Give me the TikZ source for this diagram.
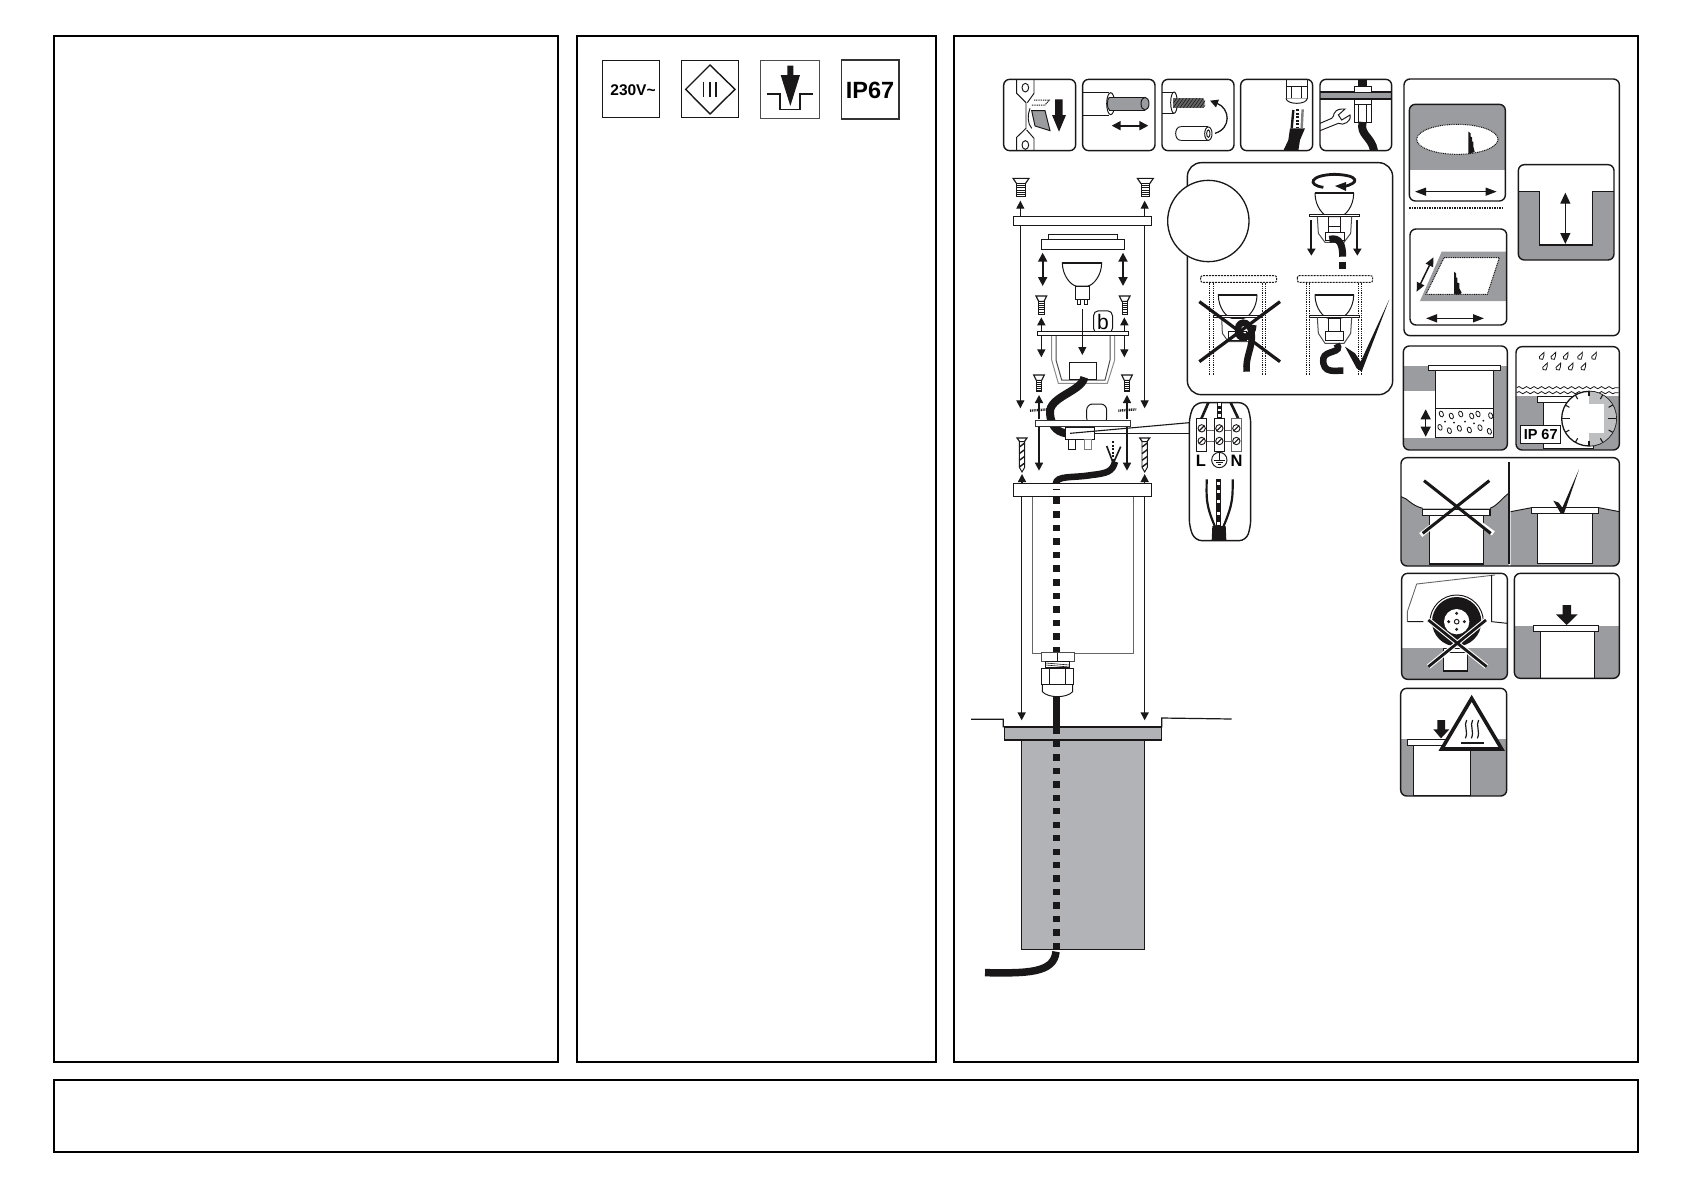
\documentclass[tikz,border=0pt]{standalone}
\usepackage{fontspec}
\setmainfont{Liberation Sans}
\usetikzlibrary{arrows.meta,decorations.pathmorphing,shapes.geometric}
\definecolor{ink}{HTML}{1A1718}
\definecolor{cardgray}{HTML}{9A9C9F}
\definecolor{bodygray}{HTML}{B1B3B6}
\definecolor{litegray}{HTML}{BDBFC1}
\tikzset{
 z/.style 2 args={shift={(#1,#2)},x=0.33333pt,y=-0.33333pt},
 frame/.style={draw=black,line width=2pt},
 card/.style={draw=ink,line width=1.4pt,rounded corners=6pt},
 thin line/.style={draw=ink,line width=.95pt},
 ln/.style={draw=ink,line width=1.15pt},
 cable/.style={draw=ink,line width=7.5pt,line cap=butt},
 ar/.style={draw=ink,line width=1.1pt,-{Triangle[length=8pt,width=8pt]}},
 bigdar/.style={draw=ink,line width=1.9pt,{Triangle[length=9pt,width=9pt]}-{Triangle[length=9pt,width=9pt]}},
 dotln/.style={draw=ink,line width=1pt,dash pattern=on 1pt off .8pt},
 crossx/.style={draw=ink,line width=3.2pt},
}
\newcommand\Card[5]{%
 \begin{scope}\clip[rounded corners=6pt] (#1,#2) rectangle (#3,#4); #5 \end{scope}
 \draw[card] (#1,#2) rectangle (#3,#4);}
% screw: cx, top y, half head width, thread half width, bottom y
\newcommand\Screw[5]{%
 \draw[ln,fill=white] (#1-#3,#2) -- (#1+#3,#2) -- (#1+#4,#2+16) -- (#1-#4,#2+16) -- cycle;
 \draw[draw=ink,line width=.9pt,fill=white] (#1-#4,#2+16) rectangle (#1+#4,#5);
 \foreach \t in {0.17,0.34,0.51,0.68,0.85}{\draw[draw=ink,line width=.9pt] (#1-#4,{#2+16+\t*(#5-#2-16)}) -- (#1+#4,{#2+16+\t*(#5-#2-16)});}}
% bulb dome: cx, top y, half width
\newcommand\Dome[3]{%
 \draw[draw=ink,line width=1pt,fill=white] (#1-#3,#2) .. controls (#1-#3,#2+40) and (#1-.55*#3,#2+68) .. (#1-.3*#3,#2+70) -- (#1+.3*#3,#2+70) .. controls (#1+.55*#3,#2+68) and (#1+#3,#2+40) .. (#1+#3,#2) -- cycle;
 \draw[draw=ink,line width=1.8pt] (#1-#3,#2) -- (#1+#3,#2);}
% gravel stone
\newcommand\Stone[3]{\draw[draw=ink,line width=.8pt] (#1,#2) ellipse[x radius=#3,y radius=#3*1.5,rotate=20];}
\newcommand\Drop[2]{\draw[draw=ink,line width=.8pt] (#1+7,#2-13) .. controls (#1+5,#2-5) and (#1+9,#2) .. (#1+3,#2+8) .. controls (#1-4,#2+10) and (#1-10,#2+5) .. (#1-7,#2) .. controls (#1-4,#2-4) and (#1+3,#2-8) .. cycle;}
\begin{document}
\begin{tikzpicture}[x=1pt,y=-1pt]
\useasboundingbox (0,0) rectangle (1685,1191);
\fill[white] (0,0) rectangle (1685,1191);
% ---------- frames
\draw[frame] (54.3,35.7) rectangle (558,1062);
\draw[frame] (576.5,35.7) rectangle (936,1062);
\draw[frame] (954,35.7) rectangle (1637.7,1062);
\draw[frame] (54.3,1080.3) rectangle (1637.7,1151.7);

% ---------- symbols
\begin{scope}[z={580}{40}]
 \node[draw=ink,line width=1.5pt,minimum size=56.6pt,inner sep=0pt] (volt) at (153,147) {};
 \node[inner sep=0pt,font=\fontsize{15.5}{16}\selectfont\bfseries] (volttext) at (159,152) {230V\char`\~};
 \draw[draw=ink,line width=1.5pt] (305,62) rectangle (475,232);
 \draw[draw=ink,line width=1.4pt] (390,75) -- (465,148) -- (390,222) -- (317,148) -- cycle;
 \foreach \x in {371,390,408}{\draw[draw=ink,line width=1.2pt] (\x,126) -- (\x,170);}
 \draw[draw=black!70,line width=1.2pt] (542,62) rectangle (718,235);
 \draw[draw=ink,line width=1.2pt] (562,162) -- (600,162) -- (600,209) -- (660,209) -- (660,162) -- (700,162);
 \fill[ink] (622,77) -- (640,77) -- (640,105) -- (660,105) -- (631,198) -- (602,105) -- (622,105) -- cycle;
 \node[draw=black!80,line width=1.5pt,minimum width=57.5pt,minimum height=59pt,inner sep=0pt] (ip) at (870,149) {};
 \node[inner sep=0pt,font=\fontsize{23.5}{24}\selectfont\bfseries] (iptext) at (870,152) {IP67};
\end{scope}

% ---------- instruction row, big panel
\begin{scope}[z={990}{60}]
 % icon 1
 \Card{41}{58}{257}{272}{
  \draw[thin line] (80,58) -- (80,100) -- (108,128) -- (108,205) -- (80,232) -- (80,272);
  \draw[thin line] (132,58) -- (132,100) -- (112,128);
  \draw[thin line] (132,272) -- (132,235) -- (110,210);
  \draw[thin line] (106,83) ellipse[x radius=10,y radius=13];
  \draw[thin line] (106,255) ellipse[x radius=10,y radius=13];
  \draw[dotln] (132,120) -- (178,120) -- (165,135) -- (125,135);
  \draw[thin line,fill=cardgray] (125,152) -- (165,152) -- (180,212) -- (135,198) -- cycle;
  \draw[thin line] (120,145) .. controls (112,165) and (112,190) .. (125,205);
  \fill[ink] (195,118) -- (218,118) -- (218,165) -- (228,165) -- (207,215) -- (186,165) -- (195,165) -- cycle;
 }
 % icon 2
 \Card{278}{58}{495}{272}{
  \draw[thin line] (278,97) -- (358,97) (278,165) -- (358,165);
  \draw[thin line,fill=white] (362,131) ellipse[x radius=12,y radius=33];
  \fill[cardgray] (358,112) rectangle (465,150);
  \fill[cardgray] (358,131) ellipse[x radius=5,y radius=19];
  \draw[thin line] (358,112) -- (465,112) (358,150) -- (465,150);
  \draw[thin line] (358,112) .. controls (350,118) and (350,144) .. (358,150);
  \draw[thin line,fill=cardgray] (465,131) ellipse[x radius=12,y radius=19];
  \draw[bigdar] (365,197) -- (475,197);
 }
 % icon 3
 \Card{516}{58}{732}{272}{
  \draw[thin line] (516,97) -- (552,97) (516,160) -- (552,160);
  \draw[thin line,fill=white] (552,128) ellipse[x radius=10,y radius=32];
  \fill[black!60] (550,115) rectangle (638,143);
  \fill[black!60] (638,129) ellipse[x radius=6,y radius=14];
  \begin{scope}\clip (550,115) rectangle (645,143);
   \foreach \x in {540,550,...,640}{\draw[ink,line width=.6pt] (\x,143) -- (\x+20,115);}
  \end{scope}
  \draw[thin line] (572,200) -- (655,200) (572,241) -- (655,241);
  \draw[thin line] (572,200) .. controls (552,200) and (552,241) .. (572,241);
  \draw[thin line,fill=white] (655,221) ellipse[x radius=11,y radius=20];
  \draw[thin line] (655,221) ellipse[x radius=5,y radius=11];
  \draw[draw=ink,line width=1.3pt,-{Triangle[length=8pt,width=8pt]}] (675,220) .. controls (725,205) and (720,145) .. (660,122);
 }
 % icon 4
 \Card{752}{58}{968}{272}{
  \draw[thin line,fill=white] (888,58) rectangle (952,78);
  \draw[thin line,fill=white] (888,78) rectangle (952,115);
  \draw[thin line] (905,78) -- (905,115) (935,78) -- (935,115);
  \draw[thin line,fill=white] (888,115) .. controls (890,135) and (950,135) .. (952,115);
  \fill[ink] (880,272) -- (895,240) -- (900,205) -- (945,205) -- (930,240) -- (925,272) -- cycle;
  \draw[draw=ink,line width=2.4pt] (910,150) -- (905,205);
  \draw[draw=ink,line width=2.6pt,dash pattern=on 2pt off 1.5pt] (922,148) -- (922,205);
  \draw[draw=black!50,line width=2.4pt] (938,148) -- (935,205);
 }
 % icon 5
 \Card{990}{58}{1205}{272}{
  \fill[ink] (1105,58) rectangle (1130,82);
  \fill[cardgray] (990,97) rectangle (1205,116);
  \draw[draw=ink,line width=1.8pt] (990,96) -- (1205,96) (990,117) -- (1205,117);
  \draw[thin line,fill=white] (1092,80) rectangle (1145,96);
  \draw[thin line,fill=white] (1092,118) rectangle (1145,133);
  \draw[thin line,fill=white] (1092,133) rectangle (1145,186);
  \draw[thin line] (1105,133) -- (1105,186) (1130,133) -- (1130,186);
  \draw[cable,line width=8pt] (1118,186) .. controls (1108,225) and (1145,230) .. (1152,272);
  \draw[thin line] (990,190) -- (1025,175) .. controls (1035,170) and (1025,150) .. (1055,147) -- (1065,147) -- (1045,165) -- (1055,180) -- (1080,165) .. controls (1085,185) and (1060,198) .. (1045,190) -- (990,212);
 }
 % big rounded panel
 \draw[draw=ink,line width=1.4pt,rounded corners=14pt] (592,308) rectangle (1208,1004);
 \draw[draw=ink,line width=1.3pt,fill=white] (655,483) circle[radius=122];
 % top right figure
 \draw[draw=ink,line width=2.8pt] (1060,380) .. controls (1110,370) and (1110,345) .. (1033,343) .. controls (960,345) and (950,375) .. (1000,382);
 \fill[ink] (1035,378) -- (1068,366) -- (1068,393) -- cycle;
 \Dome{1033}{400}{58}
 \draw[thin line,fill=white] (958,463) rectangle (1108,469);
 \draw[draw=black!70,line width=1pt] (982,470) -- (985,520) -- (1005,547) -- (1062,547) -- (1082,520) -- (1085,470);
 \draw[thin line] (1015,470) rectangle (1052,498) (1015,498) -- (1015,518) (1052,498) -- (1052,518);
 \draw[thin line] (1005,518) rectangle (1062,540);
 \draw[draw=ink,line width=1.9pt,-{Triangle[length=7pt,width=8pt]}] (964,480) -- (964,587);
 \draw[draw=ink,line width=1.9pt,-{Triangle[length=7pt,width=8pt]}] (1102,480) -- (1102,587);
 \draw[cable,line width=7pt] (1018,538) .. controls (1050,530) and (1058,555) .. (1058,590);
 \fill[ink] (1047,607) rectangle (1067,627);
 % bottom left figure
 \draw[draw=ink,line width=1pt,dash pattern=on 2pt off 1pt,rounded corners=2pt] (632,647) rectangle (860,667);
 \foreach \x in {658,670,816,827}{\draw[dotln] (\x,668) -- (\x,945);}
 \Dome{743}{705}{58}
 \draw[thin line,fill=white] (670,766) rectangle (815,772);
 \draw[draw=black!70,line width=1pt] (695,772) -- (697,820) -- (715,845) -- (775,845);
 \draw[thin line] (715,815) rectangle (770,840);
 \draw[draw=ink,line width=6.5pt] (770,935) .. controls (765,890) and (790,860) .. (785,820) .. controls (780,775) and (735,780) .. (745,820) .. controls (750,845) and (790,830) .. (790,795);
 \draw[crossx] (628,725) -- (870,905) (870,725) -- (628,905);
 % bottom right figure
 \draw[draw=ink,line width=1pt,dash pattern=on 2pt off 1pt,rounded corners=2pt] (922,647) rectangle (1148,667);
 \foreach \x in {950,958,1105,1113}{\draw[dotln] (\x,668) -- (\x,945);}
 \Dome{1033}{705}{58}
 \draw[thin line,fill=white] (958,765) rectangle (1108,772);
 \draw[draw=black!70,line width=1pt] (982,772) -- (985,820) -- (1005,850) -- (1062,850) -- (1082,820) -- (1085,772);
 \draw[thin line] (1015,772) rectangle (1052,815);
 \draw[thin line,fill=white] (1005,815) rectangle (1060,842);
 \draw[cable,line width=6.5pt] (1040,852) .. controls (1060,880) and (1005,870) .. (1000,895) .. controls (995,945) and (1040,930) .. (1060,932);
 \fill[ink] (1065,860) -- (1095,880) -- (1112,905) -- (1198,718) -- (1115,935) -- (1100,925) -- cycle;
\end{scope}

% ---------- exploded view, upper part
\begin{scope}[z={990}{160}]
 \Screw{93}{55}{24}{13}{108}
 \Screw{466}{55}{24}{13}{108}
 \draw[ar] (91,168) -- (91,122);
 \draw[ar] (464,168) -- (464,122);
 \draw[ar] (91,197) -- (91,745);
 \draw[ar] (464,197) -- (464,745);
 \node[draw=ink,line width=1.1pt,fill=white,minimum width=138.3pt,minimum height=9pt,inner sep=0pt] (plate1) at (277.5,183) {};
 \node[draw=ink,line width=1pt,minimum width=69pt,minimum height=5pt,inner sep=0pt] (cover1) at (279,230.5) {};
 \node[draw=ink,line width=1pt,minimum width=83pt,minimum height=10pt,inner sep=0pt] (cover2) at (279,253) {};
 \draw[bigdar] (158,278) -- (158,378);
 \draw[bigdar] (399,278) -- (399,378);
 \Dome{276}{308}{59}
 \draw[thin line,fill=white] (255,380) rectangle (298,418);
 \draw[thin line] (262,418) rectangle (270,434) (284,418) rectangle (293,434);
 \Screw{154}{408}{16}{8}{462}
 \Screw{404}{408}{16}{8}{462}
 \draw[ar,line width=1.5pt] (154,515) -- (154,472);
 \draw[ar,line width=1.5pt] (403,515) -- (403,472);
 \node[draw=ink,line width=1pt,rounded corners=5pt,minimum width=19pt,minimum height=22.5pt,inner sep=0pt,font=\fontsize{21}{21}\selectfont] (blabel) at (339,486) {b};
 \draw[draw=black!45,line width=1pt] (185,515) -- (185,600) -- (205,670) -- (352,670) -- (374,600) -- (374,515);
 \draw[draw=black!70,line width=1pt] (198,527) -- (198,600) -- (215,660) -- (345,660) -- (360,600) -- (360,527);
 \node[draw=ink,line width=1.1pt,fill=white,minimum width=91pt,minimum height=4pt,inner sep=0pt] (flange) at (278.5,521) {};
 \draw[ar] (277,447) -- (277,585);
 \draw[ar,line width=1.5pt] (154,527) -- (154,592);
 \draw[ar] (403,527) -- (403,592);
 \node[draw=ink,line width=1pt,minimum width=27pt,minimum height=17pt,inner sep=0pt] (lampbox) at (279,632) {};
 \Screw{147}{645}{16}{8}{695}
 \Screw{411}{645}{16}{8}{695}
\end{scope}

% ---------- exploded view, lower part + callout
\begin{scope}[z={990}{380}]
 \draw[cable,line width=8pt] (283,-8) .. controls (275,35) and (175,50) .. (180,100) .. controls (182,130) and (195,155) .. (228,160);
 \draw[ar,line width=1.5pt] (147,118) -- (147,45);
 \draw[ar,line width=1.5pt] (411,118) -- (411,45);
 \foreach \x/\y in {120/90,385/90}{\draw[draw=ink,line width=2.4pt,dash pattern=on 1pt off .8pt] (\x,\y+2) -- (\x+54,\y-2);}
 \draw[draw=ink,line width=1pt,rounded corners=6pt] (290,132) -- (290,72) -- (350,72) -- (350,132) -- cycle;
 \draw[draw=black!80,line width=1pt,fill=white] (135,120) rectangle (422,140);
 \draw[ln,fill=white] (226,143) rectangle (314,178);
 \draw[thin line] (236,178) rectangle (257,208);
 \draw[draw=black!50,line width=1pt] (282,178) rectangle (305,208);
 \draw[ar,line width=1.5pt] (147,140) -- (147,272);
 \draw[ar,line width=1.5pt] (411,140) -- (411,272);
 \foreach \x in {96,464}{
  \draw[ln,fill=white] (\x-15,174) -- (\x+15,174) -- (\x+7,185) -- (\x-7,185) -- cycle;
  \draw[thin line,fill=white] (\x-8,185) -- (\x+8,185) -- (\x+8,262) -- (\x,276) -- (\x-8,262) -- cycle;
  \foreach \y in {195,215,235,255}{\draw[draw=ink,line width=1.4pt] (\x-8,\y+6) -- (\x+8,\y-6);}
 }
 \draw[ar,line width=1.5pt] (96,308) -- (96,282);
 \draw[ar,line width=1.5pt] (464,308) -- (464,282);
 \draw[cable,line width=6.5pt] (197,312) .. controls (200,285) and (245,295) .. (305,285) .. controls (350,280) and (368,275) .. (375,245);
 \draw[draw=ink,line width=1.6pt] (350,198) -- (368,245) (392,200) -- (372,245);
 \draw[draw=ink,line width=1.4pt,dash pattern=on 2pt off 1.5pt] (369,183) -- (369,245);
 \node[draw=ink,line width=1.1pt,fill=white,minimum width=138.3pt,minimum height=13pt,inner sep=0pt] (plate2) at (277.5,330) {};
 \draw[draw=ink,line width=1.6pt] (188,329) -- (210,329);
 % leader lines
 \draw[draw=ink,line width=1.1pt] (240,160) -- (598,128);
 \draw[draw=ink,line width=1.1pt] (314,160) -- (598,160);
 % callout
 \draw[card,fill=white,rounded corners=7pt] (615,68) -- (768,68) -- (782,110) -- (782,440) -- (768,482) -- (615,482) -- (598,440) -- (598,110) -- cycle;
 \draw[draw=ink,line width=2.6pt] (655,68) -- (634,116) (722,68) -- (745,116);
 \fill[ink] (681,68) rectangle (695,116);
 \foreach \y in {70,86,102}{\fill[white] (683,\y) rectangle (693,\y+8);}
 \draw[draw=black!60,line width=1pt] (650,150) -- (673,150) (650,183) -- (673,183) (703,150) -- (724,150) (703,183) -- (724,183);
 \foreach \x/\c in {635/ink,688/ink,739/black!60}{
  \draw[draw=\c,line width=1pt,fill=white] (\x-15,116) rectangle (\x+15,215);
  \foreach \y in {145,183}{
   \draw[draw=ink,line width=.9pt] (\x,\y) circle[radius=11];
   \draw[draw=ink,line width=1.1pt] (\x-8,\y+8) -- (\x+8,\y-8);}
 }
 \node[inner sep=0pt,font=\fontsize{16.5}{17}\selectfont\bfseries] (lbl) at (633,241) {L};
 \node[inner sep=0pt,font=\fontsize{16.5}{17}\selectfont\bfseries] (nbl) at (740,241) {N};
 \draw[thin line] (688,240) circle[radius=23];
 \draw[draw=ink,line width=.9pt] (688,218) -- (688,240) (672,240) -- (704,240) (678,247) -- (698,247) (683,254) -- (693,254);
 \draw[draw=ink,line width=2.2pt] (650,298) .. controls (650,350) and (645,370) .. (675,440);
 \draw[draw=ink,line width=2.2pt] (728,298) .. controls (728,350) and (730,370) .. (700,440);
 \fill[ink] (679,298) rectangle (693,440);
 \foreach \y in {305,330,360,395,425}{\fill[white] (682,\y) rectangle (690,\y+10);}
 \fill[ink] (667,438) -- (707,438) -- (709,482) -- (665,482) -- cycle;
 % dashed cable
 \foreach \n in {0,...,11}{\fill[ink] (189,{352+\n*40.8}) rectangle (209.5,{372+\n*40.8});}
\end{scope}

% ---------- lower exploded part
\begin{scope}[z={970}{640}]
 \draw[draw=black!60,line width=1.1pt] (187,-430) -- (187,40) -- (491,40) -- (491,-430);
 \draw[ar,line width=1.5pt] (155,-430) -- (155,241);
 \draw[ar,line width=1.5pt] (524,-430) -- (524,241);
 \draw[draw=black!70,line width=1pt,fill=white] (213,38) rectangle (312,65);
 \draw[thin line] (262,38) -- (262,65);
 \draw[thin line,fill=white] (227,65) rectangle (298,83);
 \foreach \y in {69,75}{\draw[draw=ink,line width=.6pt] (227,\y) -- (298,\y+6);}
 \draw[thin line,fill=white] (215,85) rectangle (310,133);
 \draw[thin line] (238,85) -- (238,133) (285,85) -- (285,133);
 \draw[thin line] (217,133) -- (217,155) .. controls (235,175) and (290,175) .. (308,155) -- (308,133);
 \fill[ink] (250,172) rectangle (270,262);
 % ground and sleeve
 \draw[draw=ink,line width=1.2pt] (3,238) -- (100,238) -- (100,260) -- (575,260) -- (575,234) -- (785,237);
 \draw[draw=ink,line width=1.1pt,fill=bodygray] (103,262) rectangle (575,300);
 \draw[draw=ink,line width=1.1pt,fill=bodygray] (154,300) rectangle (524,928);
 \foreach \n in {0,...,16}{\fill[ink] (250,{262+\n*40.4}) rectangle (270.5,{281+\n*40.4});}
 \draw[cable] (258,935) .. controls (252,1000) and (170,1000) .. (45,998);
\end{scope}

% ---------- right column
\begin{scope}[z={1400}{70}]
 \draw[card] (12,27) rectangle (658,797);
 \Card{28}{103}{316}{393}{
  \fill[cardgray] (28,103) rectangle (316,300);
  \draw[dotln,fill=white] (172,208) ellipse[x radius=122,y radius=45];
  \fill[ink] (205,185) -- (212,190) -- (212,200) -- (216,202) -- (216,214) -- (220,216) -- (220,230) -- (224,246) -- (205,252) -- cycle;
  \draw[ln,{Triangle[length=11pt,width=8pt]}-{Triangle[length=11pt,width=8pt]}] (45,365) -- (290,365);
 }
 \draw[draw=ink,line width=1.8pt,dash pattern=on 1.5pt off 1pt] (28,413) -- (312,413);
 \Card{30}{477}{320}{765}{
  \fill[cardgray] (125,545) -- (320,545) -- (320,693) -- (60,693) -- cycle;
  \draw[dotln,fill=white] (132,563) -- (298,563) -- (262,673) -- (78,673) -- cycle;
  \fill[ink] (162,605) -- (168,610) -- (168,622) -- (172,624) -- (172,638) -- (178,640) -- (178,655) -- (185,668) -- (180,673) -- (162,673) -- cycle;
  \draw[draw=ink,line width=1.5pt,{Triangle[length=9pt,width=8pt]}-{Triangle[length=9pt,width=8pt]}] (50,665) -- (100,562);
  \draw[draw=ink,line width=1.5pt,{Triangle[length=11pt,width=8pt]}-{Triangle[length=11pt,width=8pt]}] (78,745) -- (252,745);
 }
 \Card{355}{284}{642}{570}{
  \fill[cardgray] (355,364) -- (418,364) -- (418,525) -- (578,525) -- (578,364) -- (642,364) -- (642,570) -- (355,570) -- cycle;
  \draw[ln] (355,364) -- (418,364) -- (418,525) -- (578,525) -- (578,364) -- (642,364);
  \draw[ln,{Triangle[length=11pt,width=10pt]}-{Triangle[length=11pt,width=10pt]}] (496,368) -- (496,522);
 }
\end{scope}

\begin{scope}[z={1400}{340}]
 % gravel card
 \Card{10}{18}{322}{330}{
  \fill[cardgray] (10,78) rectangle (322,330);
  \fill[white] (10,152) rectangle (105,295);
  \draw[ln,fill=white] (107,92) rectangle (280,293);
  \draw[ln] (107,205) -- (280,205);
  \draw[ln,fill=white] (85,76) rectangle (302,92);
  \foreach \x/\y in {124/222,154/228,182/222,215/228,234/222,272/227,120/262,148/272,178/265,208/270,240/263,268/274}{\Stone{\x}{\y}{6}}
  \foreach \x/\y in {135/245,162/248,195/245,222/250,250/242}{\fill[ink] (\x,\y) circle[radius=3];}
  \draw[draw=ink,line width=1.4pt,{Triangle[length=10pt,width=10pt]}-{Triangle[length=10pt,width=10pt]}] (77,208) -- (77,290);
 }
 % IP67 card
 \Card{348}{20}{658}{330}{
  \fill[cardgray] (348,168) rectangle (658,330);
  \foreach \x in {425,460,497,540,582}{\Drop{\x}{50}}
  \foreach \x in {435,475,512,550}{\Drop{\x}{82}}
  \foreach \y in {143,158}{\draw[draw=ink,line width=.8pt,decorate,decoration={snake,amplitude=1.1pt,segment length=7.5pt}] (350,\y) -- (656,\y);}
  \draw[ln,fill=white] (412,170) rectangle (560,187);
  \draw[ln,fill=white] (430,187) rectangle (580,325);
  \draw[draw=ink,line width=1.3pt,fill=white] (567,236) circle[radius=82];
  \begin{scope}\clip (567,236) circle[radius=81.5];
   \fill[litegray] (567,150) -- (660,150) -- (660,330) -- (567,330) -- cycle;
   \fill[white] (567,191) rectangle (612,280);
  \end{scope}
  \foreach \a in {30,60,90,120,150,210,240,270,300,330}{\draw[draw=ink,line width=1.1pt] (567,236) ++(\a:82) -- ++(\a:-14);}
  \draw[draw=ink,line width=1.6pt] (485,236) -- (510,236) (649,236) -- (624,236);
  \node[draw=ink,line width=1.2pt,fill=white,minimum width=40pt,minimum height=18pt,inner sep=0pt,font=\fontsize{14.5}{15}\selectfont\bfseries] (ipbox) at (422,283) {IP 67};
 }
 % good/bad
 \Card{3}{353}{658}{678}{
  \fill[cardgray] (3,470) .. controls (25,475) and (30,495) .. (68,505) -- (270,505) .. controls (295,495) and (305,475) .. (326,460) -- (326,678) -- (3,678) -- cycle;
  \fill[cardgray] (332,515) -- (395,503) -- (596,503) -- (658,515) -- (658,678) -- (332,678) -- cycle;
  \draw[thin line] (3,470) .. controls (25,475) and (30,495) .. (68,505);
  \draw[thin line] (270,505) .. controls (295,495) and (305,475) .. (326,460);
  \draw[thin line] (332,515) -- (395,503) (596,503) -- (658,515);
  \draw[ln,fill=white] (88,527) rectangle (250,672);
  \draw[ln,fill=white] (68,508) rectangle (270,527);
  \draw[draw=white,line width=5pt] (62,585) -- (120,540) (280,580) -- (225,540);
  \draw[draw=ink,line width=3pt] (72,422) -- (272,580) (268,422) -- (68,580);
  \draw[ln,line width=1.7pt] (326,366) -- (326,672);
  \draw[ln,fill=white] (413,520) rectangle (578,670);
  \draw[ln,fill=white] (394,503) rectangle (596,520);
  \fill[ink] (460,482) -- (476,488) -- (487,503) -- (537,388) -- (492,520) -- (482,520) -- cycle;
 }
\end{scope}

\begin{scope}[z={1400}{570}]
 \Card{5}{10}{322}{328}{
  \fill[cardgray] (5,235) rectangle (322,328);
  \draw[draw=black!60,line width=.9pt] (22,155) -- (22,125) -- (50,42) -- (285,15);
  \draw[thin line] (22,155) -- (70,155) (275,15) -- (275,155) -- (322,160);
  \draw[thin line] (90,155) arc[start angle=180,end angle=360,radius=80];
  \fill[ink] (170,155) circle[radius=74];
  \fill[white] (170,155) circle[radius=38];
  \draw[thin line] (170,155) circle[radius=7];
  \foreach \x/\y in {170/130,146/155,193/155,170/178}{\draw[draw=ink,line width=.9pt] (\x,\y) circle[radius=3];}
  \fill[cardgray] (5,235) rectangle (130,328) (202,235) rectangle (322,328);
  \draw[ln,fill=white] (130,235) rectangle (202,303);
  \draw[thin line] (130,247) -- (202,247);
  \draw[draw=white,line width=5pt] (85,150) -- (260,290) (258,150) -- (85,290);
  \draw[draw=ink,line width=2.8pt] (85,150) -- (260,290) (258,150) -- (85,290);
 }
 \Card{343}{10}{658}{325}{
  \fill[cardgray] (343,167) rectangle (658,325);
  \draw[ln,fill=white] (421,184) rectangle (583,325);
  \draw[ln,fill=white] (400,167) rectangle (595,184);
  \fill[ink] (488,105) -- (513,105) -- (513,133) -- (533,133) -- (500,165) -- (468,133) -- (488,133) -- cycle;
 }
 \Card{2}{355}{320}{678}{
  \fill[cardgray] (2,508) rectangle (320,678);
  \draw[ln,fill=white] (40,526) rectangle (212,678);
  \draw[ln,fill=white] (22,508) rectangle (170,526);
  \fill[ink] (112,450) -- (135,450) -- (135,478) -- (148,478) -- (123,505) -- (100,478) -- (112,478) -- cycle;
  \draw[draw=ink,line width=3.6pt,fill=white,line join=miter] (215,385) -- (305,537) -- (125,537) -- cycle;
  \foreach \x in {198,216,234}{\draw[draw=ink,line width=1.2pt] (\x+2,450) .. controls (\x-8,465) and (\x+8,485) .. (\x-2,505);}
  \fill[ink] (183,515) rectangle (252,522);
 }
\end{scope}
\end{tikzpicture}
\end{document}
